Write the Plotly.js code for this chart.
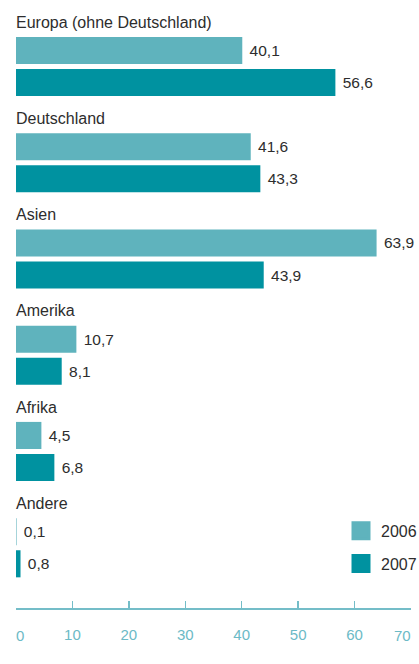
<!DOCTYPE html>
<html>
<head>
<meta charset="utf-8">
<script src="https://cdn.plot.ly/plotly-3.0.1.min.js"></script>
<style>html,body{margin:0;padding:0;background:#fff;}#chart{width:419px;height:664px;}</style>
</head>
<body>
<div id="chart"></div>
<script>
const categories = ["Europa (ohne Deutschland)", "Deutschland", "Asien", "Amerika", "Afrika", "Andere"];
const values2006 = [40.1, 41.6, 63.9, 10.7, 4.5, 0.1];
const values2007 = [56.6, 43.3, 43.9, 8.1, 6.8, 0.8];
const seriesNames = ["2006", "2007"];
const xTicks = [0, 10, 20, 30, 40, 50, 60, 70];

const c2006 = "#5fb3bd";
const c2007 = "#0092a0";
const axisColor = "#74bdc8";
const tickTextColor = "#6cbac6";
const textColor = "#2d2d2d";
const FONT = "Liberation Sans, Arial, Helvetica, sans-serif";
const NB = "\u00a0";

function fmt(v){ return NB + v.toFixed(1).replace(".", ","); }
const lastTick = xTicks.length - 1;
// the two edge labels are aligned to the axis ends (drawn as annotations below)
const tickText = xTicks.map((v, i) => (i === 0 || i === lastTick) ? "" : String(v));

function barTrace(vals, name, color){
  return {
    type: "bar", orientation: "h",
    x: vals, y: categories, name: name,
    marker: {color: color},
    text: vals.map(fmt), textposition: "outside", cliponaxis: false,
    constraintext: "none",
    textfont: {family: FONT, size: 15.5, color: textColor},
    hoverinfo: "skip", showlegend: false
  };
}
function legendTrace(name, color, group){
  return {
    type: "scatter", mode: "markers", x: [null], y: [null], name: name,
    legendgroup: group,
    marker: {symbol: "square", size: 16, color: color, line: {width: 3, color: color}},
    hoverinfo: "skip", showlegend: true
  };
}

const data = [
  barTrace(values2006, seriesNames[0], c2006),
  barTrace(values2007, seriesNames[1], c2007),
  legendTrace(seriesNames[0], c2006, "a"),
  legendTrace(seriesNames[1], c2007, "b")
];

const annotations = categories.map(c => ({
  x: 0, xref: "x", y: c, yref: "y",
  text: c, showarrow: false, xanchor: "left", yanchor: "middle",
  yshift: 44.5, xshift: -2,
  font: {family: FONT, size: 16, color: textColor}
}));
[0, lastTick].forEach(i => annotations.push({
  x: xTicks[i], xref: "x", y: 0, yref: "paper",
  text: String(xTicks[i]), showarrow: false,
  xanchor: i === 0 ? "left" : "right", yanchor: "middle",
  yshift: -27, xshift: i === 0 ? -2 : 2,
  font: {family: FONT, size: 15, color: tickTextColor}
}));

const layout = {
  width: 419, height: 664,
  margin: {l: 16, r: 8.3, t: 0, b: 56.3, autoexpand: false},
  paper_bgcolor: "#fff", plot_bgcolor: "#fff",
  barmode: "group", bargap: 0.333, bargroupgap: 0.156,
  font: {family: FONT, size: 15, color: textColor},
  xaxis: {
    range: [0, 70], tickvals: xTicks, ticktext: tickText,
    showgrid: false, zeroline: false,
    showline: true, linecolor: axisColor, linewidth: 2,
    ticks: "inside", ticklen: 7, tickwidth: 1.5, tickcolor: axisColor,
    ticklabelstandoff: 12,
    tickfont: {family: FONT, size: 15, color: tickTextColor},
    fixedrange: true
  },
  yaxis: {
    type: "category", categoryarray: categories, categoryorder: "array",
    range: [5.626, -0.691],
    showticklabels: false, showgrid: false, zeroline: false, showline: false, ticks: "",
    fixedrange: true
  },
  legend: {
    x: 341 / 419, xref: "container", xanchor: "left",
    y: 0.155, yanchor: "top",
    traceorder: "grouped", tracegroupgap: 9,
    itemsizing: "trace",
    font: {family: FONT, size: 16, color: textColor},
    bgcolor: "rgba(0,0,0,0)"
  },
  showlegend: true,
  annotations: annotations
};

Plotly.newPlot("chart", data, layout, {displayModeBar: false, staticPlot: true});
</script>
</body>
</html>
